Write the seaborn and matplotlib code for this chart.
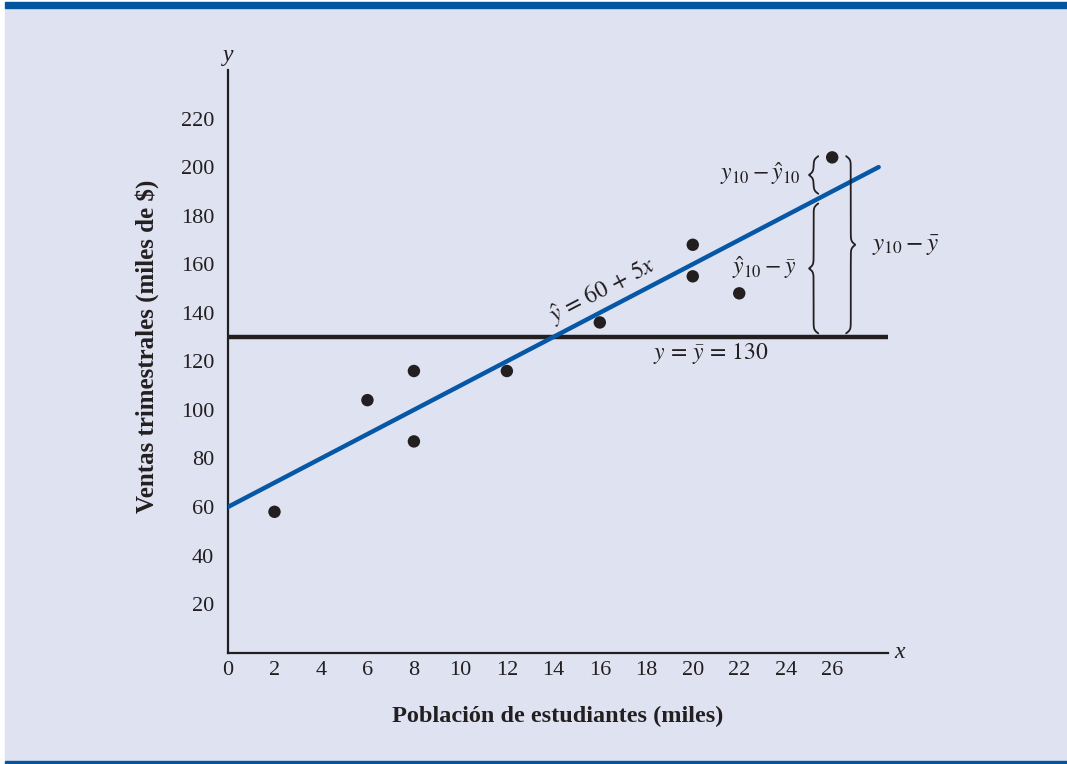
import numpy as np
import pandas as pd
import seaborn as sns
import matplotlib.pyplot as plt
from matplotlib.patches import Rectangle

# Data
poblacion = [2, 6, 8, 8, 12, 16, 20, 20, 22, 26]
ventas = [58, 104, 116, 87, 116, 136, 168, 155, 148, 204]
intercepto = 60
pendiente = 5
media_y = 130
x_recta = [0, 28]
x_ticks = list(range(0, 27, 2))
y_ticks = list(range(20, 221, 20))

df = pd.DataFrame({'x': poblacion, 'y': ventas})
recta = pd.DataFrame({'x': x_recta, 'y': [intercepto + pendiente * v for v in x_recta]})

sns.set_style('white')
plt.rcParams['font.family'] = ['Liberation Serif', 'DejaVu Serif']
plt.rcParams['mathtext.fontset'] = 'stix'

dark = '#231f20'
blue = '#0657a6'
bg = '#dfe3f1'

fig = plt.figure(figsize=(10.67, 7.64), dpi=100, facecolor='white')
# panel background and blue rules
fig.patches.append(Rectangle((5 / 1067, 3 / 764), 1 - 5 / 1067, 753 / 764,
                             transform=fig.transFigure, color=bg, zorder=-10))
fig.patches.append(Rectangle((5 / 1067, 756 / 764), 1 - 5 / 1067, 6 / 764,
                             transform=fig.transFigure, color='#0455a0', zorder=-9))
fig.patches.append(Rectangle((5 / 1067, 0), 1 - 5 / 1067, 3 / 764,
                             transform=fig.transFigure, color='#0455a0', zorder=-9))

ax = fig.add_axes([0.2137, 0.1458, 0.6185, 0.7626])
ax.set_facecolor('none')

ax.axhline(media_y, color=dark, lw=3.2, zorder=2)
sns.lineplot(data=recta, x='x', y='y', ax=ax, color=blue, lw=3.2, zorder=3)
sns.scatterplot(data=df, x='x', y='y', ax=ax, color=dark, s=80, edgecolor='none', zorder=4)

ax.set_xlim(0, 28.4)
ax.set_ylim(0, 240)
ax.set_xticks(x_ticks)
ax.set_yticks(y_ticks)
ax.tick_params(axis='both', direction='in', length=10, width=1.5, color=dark,
               labelsize=16, labelcolor=dark)
ax.tick_params(axis='y', pad=10)
ax.tick_params(axis='x', pad=6)
for side in ['top', 'right']:
    ax.spines[side].set_visible(False)
for side in ['left', 'bottom']:
    ax.spines[side].set_color(dark)
    ax.spines[side].set_linewidth(1.6)

ax.set_xlabel('Población de estudiantes (miles)', fontsize=17.5, fontweight='bold', color=dark)
ax.set_ylabel('Ventas trimestrales (miles de $)', fontsize=18, fontweight='bold', color=dark)
ax.xaxis.set_label_coords(0.5, -0.092)
ax.yaxis.set_label_coords(-0.104, 0.526)

ax.text(0, 246, 'y', style='italic', fontsize=17, ha='center', va='center', color=dark, clip_on=False)
ax.text(28.9, 0, 'x', style='italic', fontsize=17, ha='center', va='center', color=dark, clip_on=False)


def brace(ax, x, y0, y1, w, side='left', k=1.4):
    # curly brace drawn along y from y0 to y1, tip pointing to `side`
    y = np.linspace(y0, y1, 400)
    ym = (y0 + y1) / 2
    v = np.where(y <= ym,
                 1 / (1 + np.exp(-k * (y - y0))) + 1 / (1 + np.exp(-k * (y - ym))),
                 1 / (1 + np.exp(k * (y - y1))) + 1 / (1 + np.exp(k * (y - ym))))
    v = v - 0.5
    sign = -1 if side == 'left' else 1
    ax.plot(x + sign * w * v, y, color=dark, lw=1.3, clip_on=False, zorder=5)


y10 = ventas[-1]
yhat10 = intercepto + pendiente * poblacion[-1]
brace(ax, 25.4, yhat10 - 1, y10 + 0.5, 0.4, 'left')
brace(ax, 25.4, media_y + 1.5, yhat10 - 5, 0.4, 'left')
brace(ax, 26.6, media_y + 1.5, y10 + 0.5, 0.4, 'right')

ax.text(24.65, 197.5, r'$y_{10} - \hat{y}_{10}$', fontsize=17, ha='right', va='center', color=dark)
ax.text(24.45, 158.5, r'$\hat{y}_{10} - \bar{y}$', fontsize=17, ha='right', va='center', color=dark)
ax.text(27.7, 167.5, r'$y_{10} - \bar{y}$', fontsize=18, ha='left', va='center', color=dark, clip_on=False)
ax.text(16.1, 149.5, r'$\hat{y}\,=\,60\,+\,5x$', fontsize=17, ha='center', va='center', color=dark,
        rotation=np.degrees(np.arctan(pendiente)), rotation_mode='anchor', transform_rotates_text=True)
ax.text(20.8, 123.3, r'$y\,=\,\bar{y}\,=\,130$', fontsize=17, ha='center', va='center', color=dark)

fig.savefig('out.png', dpi=100, facecolor=fig.get_facecolor())
